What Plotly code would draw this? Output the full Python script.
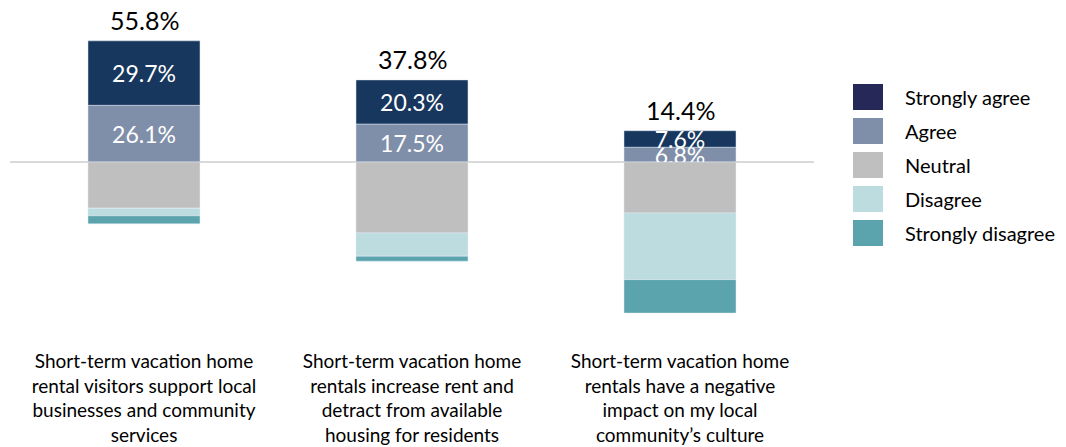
import plotly.graph_objects as go

categories = [
    "Short-term vacation home<br>rental visitors support local<br>businesses and community<br>services",
    "Short-term vacation home<br>rentals increase rent and<br>detract from available<br>housing for residents",
    "Short-term vacation home<br>rentals have a negative<br>impact on my local<br>community’s culture",
]
strongly_agree = [29.7, 20.3, 7.6]
agree = [26.1, 17.5, 6.8]
neutral = [21.3, 32.7, 23.5]
disagree = [3.5, 10.7, 30.7]
strongly_disagree = [3.7, 2.3, 15.4]

series_names = ["Strongly agree", "Agree", "Neutral", "Disagree", "Strongly disagree"]
bar_colors = ["#17375E", "#7F8FA9", "#BFBFBF", "#BDDCE0", "#5BA3AD"]
legend_colors = ["#262858", "#7F8FA9", "#BFBFBF", "#BDDCE0", "#5BA3AD"]

FONT = "Lato"
OFF = 8  # page body margin offset
W, H = 1066 - OFF, 447 - OFF
ML, MT = 10 - OFF, 10 - OFF
MR = 1066 - 814
MB = 447 - 340

fig = go.Figure()

def pct(v):
    return [f"{x:.1f}%" for x in v]

fig.add_trace(go.Bar(x=categories, y=agree, name="Agree", marker_color=bar_colors[1],
                     text=pct(agree), textposition="inside", insidetextanchor="middle",
                     constraintext="none", textangle=0,
                     textfont=dict(color="white", size=23, family=FONT),
                     hovertemplate="Agree: %{y:.1f}%<extra></extra>"))
fig.add_trace(go.Bar(x=categories, y=strongly_agree, name="Strongly agree", marker_color=bar_colors[0],
                     text=pct(strongly_agree), textposition="inside", insidetextanchor="middle",
                     constraintext="none", textangle=0,
                     textfont=dict(color="white", size=23, family=FONT),
                     hovertemplate="Strongly agree: %{y:.1f}%<extra></extra>"))
for name, vals, col in [("Neutral", neutral, bar_colors[2]),
                        ("Disagree", disagree, bar_colors[3]),
                        ("Strongly disagree", strongly_disagree, bar_colors[4])]:
    fig.add_trace(go.Bar(x=categories, y=[-v for v in vals], name=name, marker_color=col,
                         customdata=vals,
                         hovertemplate=name + ": %{customdata:.1f}%<extra></extra>"))

for c, a, s in zip(categories, agree, strongly_agree):
    tot = round(a + s, 1)
    fig.add_annotation(x=c, y=tot, xref="x", yref="y", text=f"{tot:.1f}%",
                       showarrow=False, yshift=21,
                       font=dict(size=25, color="black", family=FONT))

pw = W - ML - MR
ph = H - MT - MB
def px_x(x):
    return (x - OFF - ML) / pw
def px_y(y):
    return 1 - (y - OFF - MT) / ph

for i, (name, col) in enumerate(zip(series_names, legend_colors)):
    cy = 97 + 34 * i
    fig.add_shape(type="rect", xref="paper", yref="paper",
                  x0=px_x(853), x1=px_x(883), y0=px_y(cy + 13), y1=px_y(cy - 13),
                  fillcolor=col, line=dict(width=0))
    fig.add_annotation(xref="paper", yref="paper", x=px_x(903), y=px_y(cy),
                       text=name, showarrow=False, xanchor="left", yanchor="middle",
                       font=dict(size=20, color="black", family=FONT))

fig.update_layout(
    barmode="relative",
    bargap=0.582,
    width=W, height=H,
    margin=dict(l=ML, r=MR, t=MT, b=MB),
    plot_bgcolor="white", paper_bgcolor="white",
    showlegend=False,
    font=dict(family=FONT, color="black"),
    xaxis=dict(showgrid=False, showline=False, ticks="", automargin=False,
               ticklabelstandoff=8,
               tickfont=dict(size=19, family=FONT, color="black")),
    yaxis=dict(range=[-82, 70], showgrid=False, showticklabels=False,
               zeroline=True, zerolinecolor="#D9D9D9", zerolinewidth=2),
)

fig.write_html("out.html")
